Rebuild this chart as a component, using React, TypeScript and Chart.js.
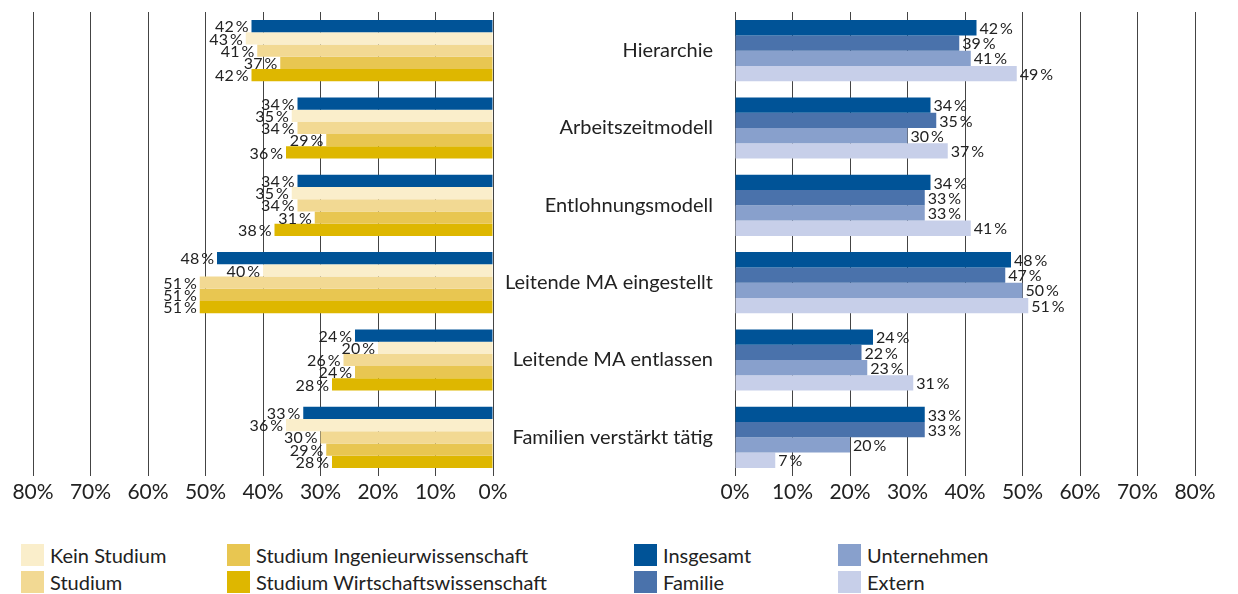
import React, { useEffect, useRef } from 'react';
import { Chart, registerables } from 'chart.js';
Chart.register(...registerables);

const categories = [
  'Hierarchie',
  'Arbeitszeitmodell',
  'Entlohnungsmodell',
  'Leitende MA eingestellt',
  'Leitende MA entlassen',
  'Familien verstärkt tätig',
];
const insgesamt = [42, 34, 34, 48, 24, 33];
const keinStudium = [43, 35, 35, 40, 20, 36];
const studium = [41, 34, 34, 51, 26, 30];
const studiumIng = [37, 29, 31, 51, 24, 29];
const studiumWiwi = [42, 36, 38, 51, 28, 28];
const familie = [39, 35, 33, 47, 22, 33];
const unternehmen = [41, 30, 33, 50, 23, 20];
const extern = [49, 37, 41, 51, 31, 7];

const C_INSG = '#005397';
const C_FAM = '#4a72ab';
const C_UNT = '#88a0cc';
const C_EXT = '#c7cfe9';
const C_KEIN = '#faeecb';
const C_STUD = '#f2d993';
const C_ING = '#e8c651';
const C_WIWI = '#deb700';

const leftSets = [
  { label: 'Insgesamt', data: insgesamt, color: C_INSG },
  { label: 'Kein Studium', data: keinStudium, color: C_KEIN },
  { label: 'Studium', data: studium, color: C_STUD },
  { label: 'Studium Ingenieurwissenschaft', data: studiumIng, color: C_ING },
  { label: 'Studium Wirtschaftswissenschaft', data: studiumWiwi, color: C_WIWI },
];
const rightSets = [
  { label: 'Insgesamt', data: insgesamt, color: C_INSG },
  { label: 'Familie', data: familie, color: C_FAM },
  { label: 'Unternehmen', data: unternehmen, color: C_UNT },
  { label: 'Extern', data: extern, color: C_EXT },
];

const FONT = 'Lato, "Open Sans", sans-serif';

function valueLabels(side: 'left' | 'right') {
  return {
    id: 'valueLabels_' + side,
    afterDatasetsDraw(chart: any) {
      const ctx = chart.ctx;
      ctx.save();
      ctx.font = '16px ' + FONT;
      ctx.fillStyle = '#222';
      ctx.textBaseline = 'middle';
      ctx.textAlign = side === 'left' ? 'right' : 'left';
      chart.data.datasets.forEach((ds: any, i: number) => {
        const meta = chart.getDatasetMeta(i);
        meta.data.forEach((bar: any, j: number) => {
          const v = ds.data[j];
          const x = side === 'left' ? bar.x - 3 : bar.x + 3;
          ctx.fillText(v + '\u2009%', x, bar.y + 1);
        });
      });
      ctx.restore();
    },
  };
}

// canvas geometry
const LEFT_W = 520;
const RIGHT_X = 480;
const RIGHT_W = 758;
const CANVAS_H = 506;

function makeConfig(side: 'left' | 'right', sets: any[]) {
  return {
    type: 'bar',
    data: {
      labels: categories,
      datasets: sets.map((s) => ({
        label: s.label,
        data: s.data,
        backgroundColor: s.color,
        borderWidth: 0,
        categoryPercentage: 0.79,
        barPercentage: 1.0,
      })),
    },
    options: {
      indexAxis: 'y',
      responsive: false,
      animation: false,
      layout: {
        padding:
          side === 'left'
            ? { left: 33, right: LEFT_W - 493, top: 12, bottom: 0 }
            : { left: 0, right: RIGHT_X + RIGHT_W - 1195, top: 12, bottom: 0 },
      },
      plugins: { legend: { display: false }, tooltip: { enabled: false } },
      scales: {
        x: {
          min: 0,
          max: 80,
          reverse: side === 'left',
          position: 'bottom',
          z: 1,
          grid: { color: '#444', lineWidth: 1, drawTicks: false },
          border: { display: false },
          ticks: {
            stepSize: 10,
            autoSkip: false,
            maxRotation: 0,
            padding: 4,
            color: '#222',
            font: { family: FONT, size: 21 },
            callback: (v: any) => v + '%',
          },
          afterFit: (s: any) => {
            s.height = 30;
          },
        },
        y: {
          display: side === 'right',
          position: 'left',
          grid: { display: false, drawTicks: true, tickLength: 22 },
          border: { display: false },
          ticks: {
            padding: 0,
            color: '#222',
            font: { family: FONT, size: 20 },
          },
          afterFit: (s: any) => {
            if (side === 'right') {
              s.width = 735 - RIGHT_X;
              s.paddingTop = 0;
              s.paddingBottom = 0;
            }
          },
        },
      },
    },
    plugins: [valueLabels(side)],
  };
}

function ChartCanvas({ side, sets, left, width }: any) {
  const ref = useRef<HTMLCanvasElement>(null);
  useEffect(() => {
    if (!ref.current) return;
    const chart = new Chart(ref.current, makeConfig(side, sets) as any);
    return () => chart.destroy();
  }, []);
  return (
    <canvas
      ref={ref}
      width={width}
      height={CANVAS_H}
      style={{ position: 'absolute', left, top: 0, width, height: CANVAS_H }}
    />
  );
}

function Legend({ items, cols }: any) {
  // items in column-major order, 2 rows
  return (
    <>
      {items.map((it: any, i: number) => {
        const col = Math.floor(i / 2);
        const row = i % 2;
        const x = cols[col];
        const y = 544 + row * 26.5;
        return (
          <div key={it.label} style={{ position: 'absolute', left: x, top: y, height: 22, display: 'flex', alignItems: 'center' }}>
            <div style={{ width: 23, height: 22, background: it.color }} />
            <span style={{ marginLeft: 6, fontFamily: FONT, fontSize: 20, color: '#222', whiteSpace: 'nowrap', lineHeight: '22px' }}>
              {it.label}
            </span>
          </div>
        );
      })}
    </>
  );
}

export default function App() {
  return (
    <div style={{ position: 'absolute', left: 0, top: 0, width: 1238, height: 594, background: '#fff', overflow: 'hidden' }}>
      <ChartCanvas side="left" sets={leftSets} left={0} width={LEFT_W} />
      <ChartCanvas side="right" sets={rightSets} left={RIGHT_X} width={RIGHT_W} />
      <Legend items={leftSets.slice(1)} cols={[21, 227]} />
      <Legend items={rightSets} cols={[634, 838]} />
    </div>
  );
}
